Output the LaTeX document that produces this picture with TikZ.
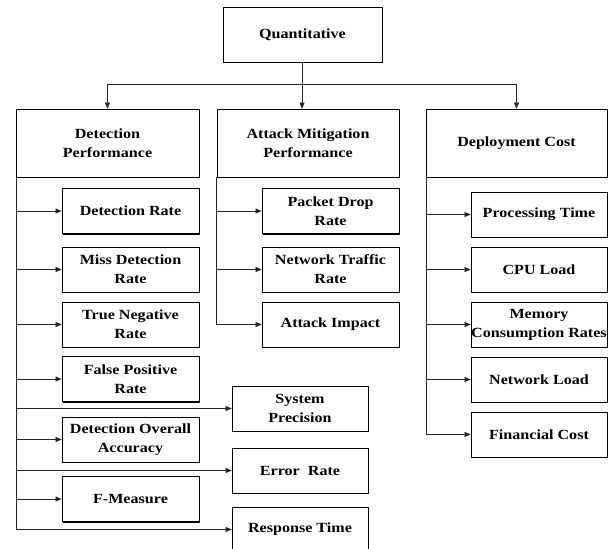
\documentclass[tikz,border=0pt]{standalone}
\usepackage{fontspec}
\setmainfont{Liberation Serif}[FakeStretch=1.15]
\usetikzlibrary{arrows.meta,shadows}

\tikzset{
  box/.style={draw=black, line width=0.7pt, fill=white, align=center,
    inner sep=0pt, font=\bfseries\fontsize{14}{19}\selectfont,
    drop shadow={shadow xshift=1.1pt, shadow yshift=-1.1pt, fill=black, opacity=1}},
  head/.style={box, minimum height=68pt},
  leaf/.style={box, minimum width=137pt, minimum height=45pt},
  wire/.style={line width=0.55pt, draw=black!85},
  link/.style={wire, -{Triangle[length=6pt,width=5pt]}}
}

\begin{document}
\begin{tikzpicture}[x=1pt,y=-1pt]
\useasboundingbox (0,0) rectangle (611,549);
\clip (0,0) rectangle (611,549);

% root
\node[box, minimum width=159pt, minimum height=55pt] (quant) at (302.5,34.5) {Quantitative};

% the three groups
\node[head, minimum width=183pt] (detp) at (107.5,143) {Detection\\Performance};
\node[head, minimum width=182pt] (attp) at (308,143) {Attack Mitigation\\Performance};
\node[head, minimum width=181pt] (depc) at (516.5,143) {Deployment Cost};

% detection performance metrics
\node[leaf] (dr)  at (130.5,211)   {Detection Rate};
\node[leaf] (mdr) at (130.5,269.5) {Miss Detection\\Rate};
\node[leaf] (tnr) at (130.5,324.5) {True Negative\\Rate};
\node[leaf] (fpr) at (130.5,379)   {False Positive\\Rate};
\node[leaf] (doa) at (130.5,439.5) {Detection Overall\\Accuracy};
\node[leaf] (fm)  at (130.5,499)   {F-Measure};
\node[leaf, minimum width=136pt] (sp) at (300,408.5) {System\\Precision};
\node[leaf, minimum width=136pt] (er) at (300,470.5) {Error~ Rate};
\node[leaf, minimum width=136pt] (rt) at (300,529.5) {Response Time};

% attack mitigation metrics
\node[leaf] (pdr) at (330.5,211)   {Packet Drop\\Rate};
\node[leaf] (ntr) at (330.5,269.5) {Network Traffic\\Rate};
\node[leaf] (ai)  at (330.5,324.5) {Attack Impact};

% deployment cost metrics
\node[leaf, minimum width=136pt] (pt)  at (539,214.5) {Processing Time};
\node[leaf, minimum width=136pt] (cpu) at (539,269.5) {CPU Load};
\node[leaf, minimum width=136pt] (mcr) at (539,324.5) {Memory\\Consumption Rates};
\node[leaf, minimum width=136pt] (nl)  at (539,379.5) {Network Load};
\node[leaf, minimum width=136pt] (fc)  at (539,434.5) {Financial Cost};

% root to groups
\coordinate (hub) at (302,84);
\draw[wire] (quant.south -| hub) -- (hub);
\draw[link] (hub) -| (detp.north);
\draw[link] (hub) -| (depc.north);
\draw[link] (hub) -- (hub |- attp.north);

% detection branch
\coordinate (dtr) at ([xshift=1pt]detp.south west);
\draw[wire] (dtr) -- (dtr |- rt.west);
\foreach \n in {dr,mdr,tnr,fpr,doa,fm,sp,er,rt}
  \draw[link] (dtr |- \n.west) -- (\n.west);

% attack mitigation branch
\coordinate (atr) at (attp.south west);
\draw[wire] (atr) -- (atr |- ai.west);
\foreach \n in {pdr,ntr,ai}
  \draw[link] (atr |- \n.west) -- (\n.west);

% deployment cost branch
\coordinate (ctr) at ([xshift=1pt]depc.south west);
\draw[wire] (ctr) -- (ctr |- fc.west);
\foreach \n in {pt,cpu,mcr,nl,fc}
  \draw[link] (ctr |- \n.west) -- (\n.west);
\end{tikzpicture}
\end{document}
